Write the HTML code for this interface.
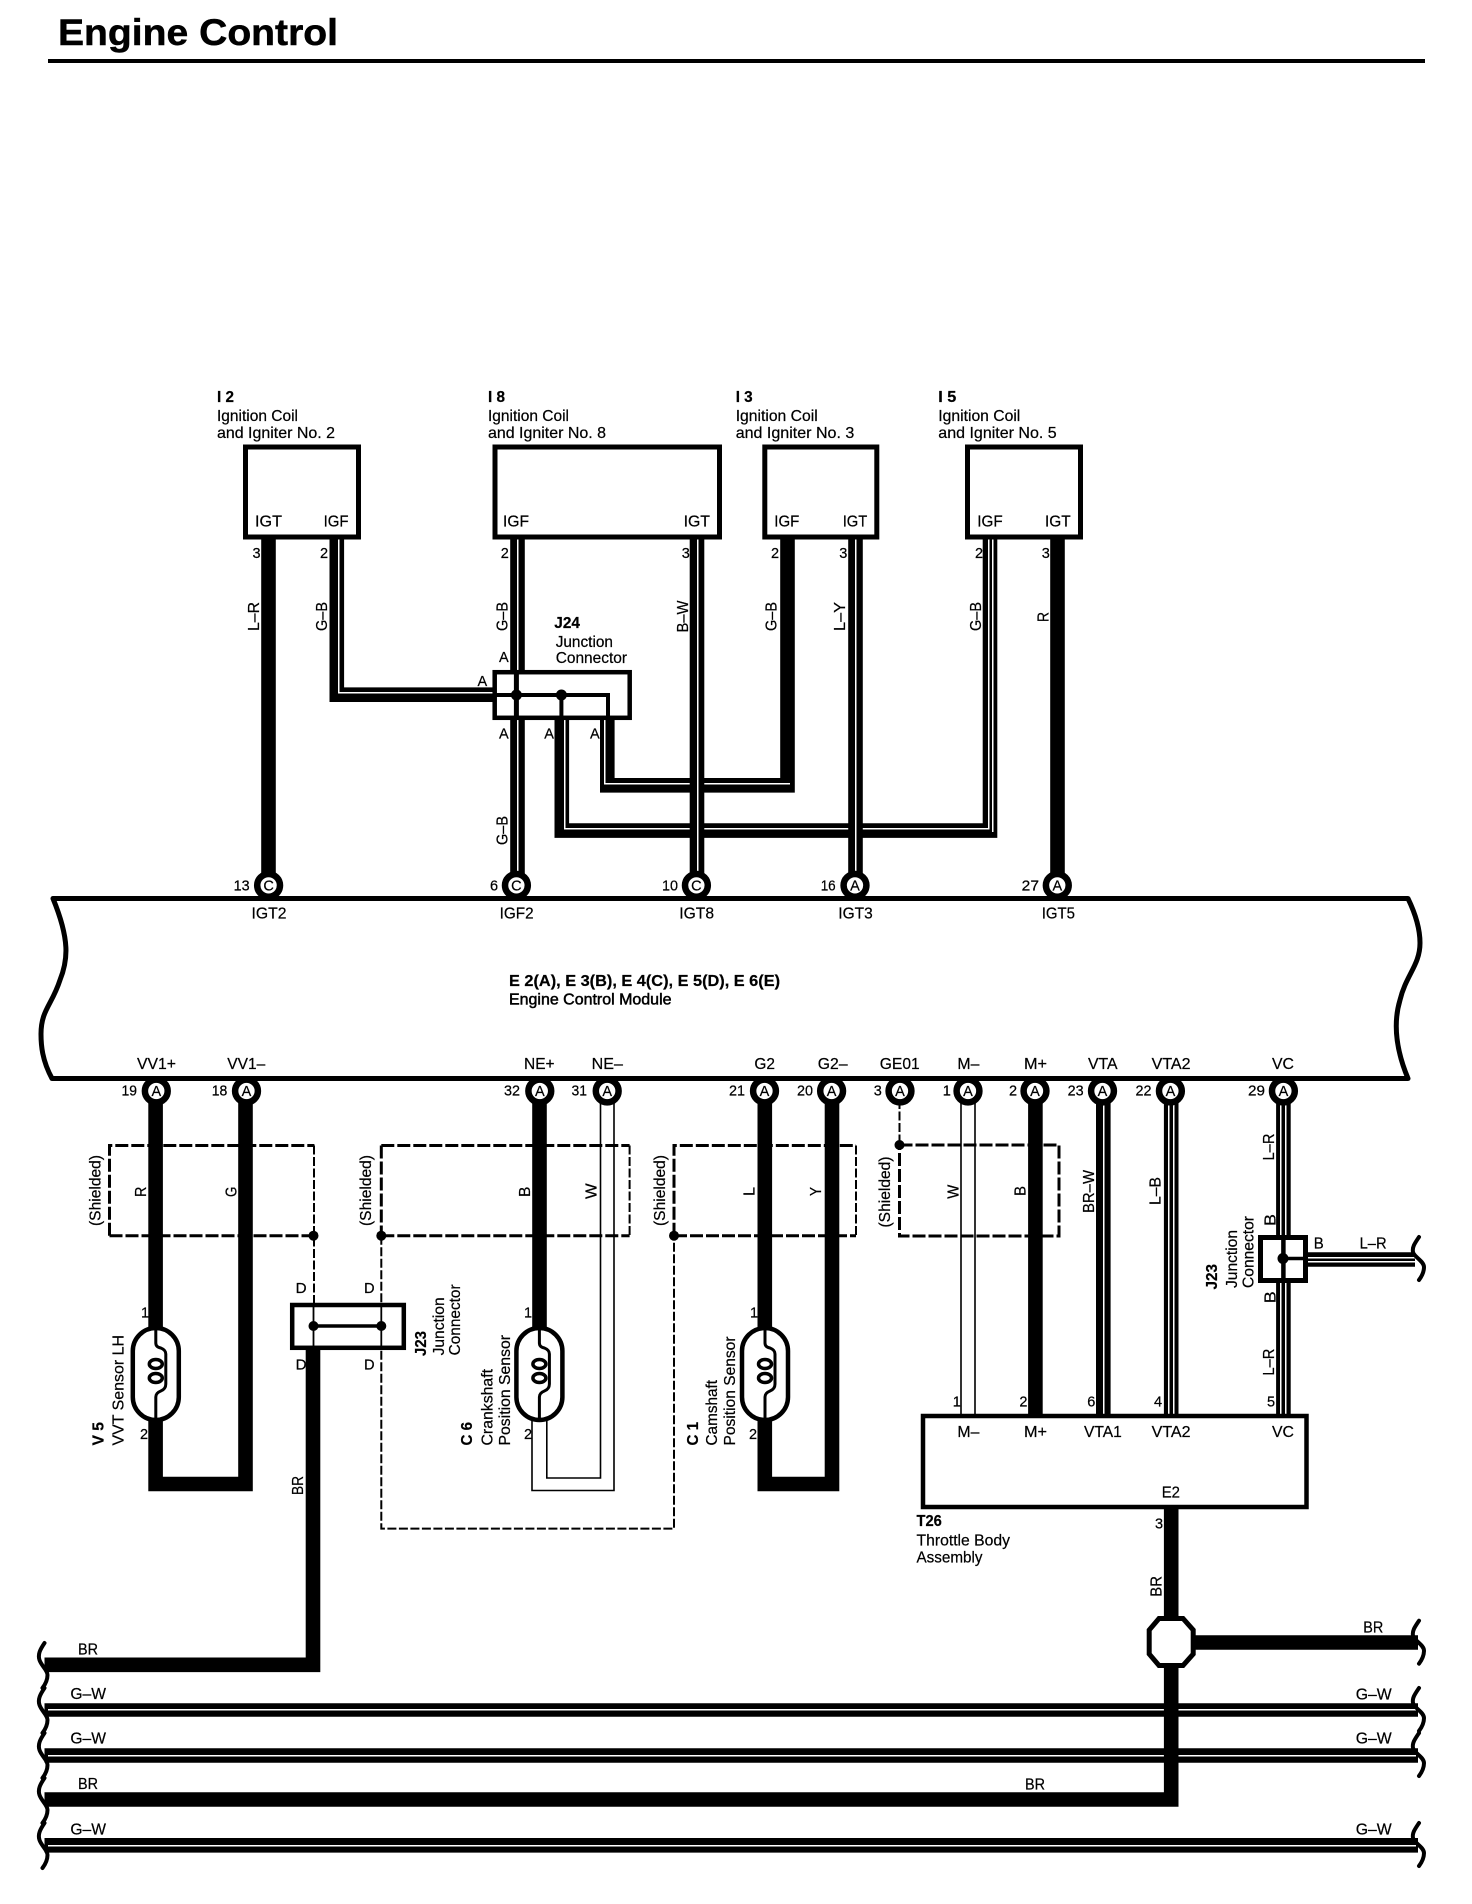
<!DOCTYPE html>
<html><head><meta charset="utf-8"><title>Engine Control</title>
<style>
html,body{margin:0;padding:0;background:#fff}
svg{display:block}
text{font-family:"Liberation Sans",sans-serif;font-size:16px;fill:#000;stroke:#000;stroke-width:.22}
.b{font-weight:bold}
.n{font-size:14.5px}
.c{font-size:14.5px;text-anchor:middle}
.w{fill:none;stroke:#000;stroke-width:14.6}
.s{fill:none;stroke:#fff;stroke-width:1.5;shape-rendering:crispEdges}
.l{fill:none;stroke:#000;stroke-width:1.6}
.d{fill:none;stroke:#000;stroke-width:3;stroke-dasharray:13 3}
.t{fill:none;stroke:#000;stroke-width:2;stroke-dasharray:9 2.5}
.q{fill:none;stroke:#000;stroke-width:4;stroke-linecap:round}
.r{fill:#fff;stroke:#000;stroke-width:5}
.p{fill:#fff;stroke:#000;stroke-width:6.5}
</style></head><body>
<svg xmlns="http://www.w3.org/2000/svg" width="1472" height="1904" viewBox="0 0 1472 1904">
<defs>
<g id="sen">
<rect x="-23" y="1328" width="46" height="92" rx="23" ry="23" fill="#fff" stroke="#000" stroke-width="4.5"/>
<path d="M0 1328V1343Q0 1347 5 1348Q10 1350 10 1354V1384Q10 1389 5 1391Q0 1393 0 1397V1420" fill="none" stroke="#000" stroke-width="3"/>
<ellipse cx="0" cy="1364" rx="6.5" ry="4.5" fill="none" stroke="#000" stroke-width="3.5"/>
<ellipse cx="0" cy="1378" rx="6.5" ry="4.5" fill="none" stroke="#000" stroke-width="3.5"/>
</g>
<path id="sq" class="q" d="M0 0c-4 6-7 11-5 17c2 6 8 10 8 15c0 5-2 9-5 13"/>
<path id="sr" class="q" d="M0 0c-4 6-7 10-6 15c1 5 11 9 11 15c0 5-2 9-5 13"/>
</defs>

<!-- Title -->
<text x="58" y="45" class="b" style="font-size:37.5px;stroke-width:.5" textLength="280" lengthAdjust="spacingAndGlyphs">Engine Control</text>
<rect x="48" y="59" width="1377" height="4"/>

<!-- upper horizontals -->
<path class="w" d="M336.8 539V694.7H494"/>
<path class="s" d="M338.5 539V692.5H494"/>
<path class="w" d="M607.3 720V785.3H787.5V539"/>
<path class="s" d="M604.5 720V783.5H790"/>
<path class="w" d="M561.8 720V830.6H990V539"/>
<path class="s" d="M564.5 720V828.5H988.5V539M992.5 539V832"/>

<!-- upper verticals -->
<path class="w" d="M268.5 539V885"/>
<path class="w" d="M517.5 539V885"/>
<path class="s" d="M517.5 539V672M517.5 720V885"/>
<path class="w" d="M697 539V885"/>
<path class="s" d="M697.5 539V885"/>
<path class="w" d="M855.5 539V885"/>
<path class="s" d="M855.5 539V885"/>
<path class="w" d="M1057.5 539V885"/>

<!-- boxes -->
<rect class="r" x="245.5" y="447" width="113" height="90"/>
<rect class="r" x="495" y="447" width="224.5" height="90"/>
<rect class="r" x="764.8" y="447" width="112" height="90"/>
<rect class="r" x="967.5" y="447" width="113" height="90"/>

<!-- J24 -->
<rect x="494.7" y="672.2" width="135" height="45.6" fill="#fff" stroke="#000" stroke-width="4.5"/>
<path d="M494 695H608V720M561.4 695V720" fill="none" stroke="#000" stroke-width="4"/>
<path d="M516.4 672V720" fill="none" stroke="#000" stroke-width="5"/>
<circle cx="516.4" cy="695" r="5.5"/><circle cx="561.4" cy="695" r="5.5"/>

<!-- ECM -->
<path d="M1408 898.5C1416 915 1420 930 1420 943C1420 965 1406 975 1400 1000C1394 1020 1394 1045 1408 1078.5H52C42 1060 41 1045 41 1034C41 1010 52 1005 60 980C68 960 70 940 53 898.5Z" fill="none" stroke="#000" stroke-width="5" stroke-linejoin="round"/>

<!-- lower wires -->
<path class="w" d="M155.6 1091V1484H245.5V1091"/>
<path class="w" d="M539.5 1091V1328"/>
<path class="l" d="M532 1415V1490.5H614V1100M546.8 1415V1478H600.5V1100"/>
<path class="w" d="M764.8 1091V1484H832V1091"/>
<path class="l" d="M961 1100V1415M975 1100V1415"/>
<path class="w" d="M1035.4 1091V1415"/>
<path class="w" d="M1103.3 1091V1415"/><path class="s" d="M1103.5 1100V1415"/>
<path class="w" d="M1171.2 1091V1415"/><path class="s" d="M1168.5 1100V1415M1173.5 1100V1415"/>
<path class="w" d="M1283.4 1091V1415"/><path class="s" d="M1280.5 1100V1415M1285.5 1100V1415"/>

<!-- shields -->
<path class="d" d="M109.5 1235.7V1145.5H314.4"/>
<path class="d" d="M109.5 1235.7H314.4"/>
<path class="t" d="M314 1145.5V1326"/>
<path class="d" d="M381.3 1145.5H629.6M381.3 1235.7H629.6"/>
<path class="t" d="M629.6 1145.5V1235.7"/>
<path class="d" d="M381.3 1145.5V1235.7"/>
<path class="t" d="M381.3 1235.7V1528.6H674V1235.7"/>
<path class="d" d="M674 1235.7V1145.5H856M674 1235.7H856"/>
<path class="t" d="M856 1145.5V1235.7"/>
<path class="t" d="M899.5 1100V1145"/>
<path class="d" d="M899.5 1145H1059V1236H899.5V1145"/>
<circle cx="313.5" cy="1235.7" r="5"/><circle cx="381.3" cy="1235.7" r="5"/><circle cx="674" cy="1235.7" r="5"/><circle cx="899.5" cy="1145" r="5"/>

<!-- sensors -->
<use href="#sen" x="155.8"/>
<use href="#sen" x="539.4"/>
<use href="#sen" x="765"/>

<!-- left J23 -->
<rect x="292.2" y="1305" width="111.6" height="42.8" fill="#fff" stroke="#000" stroke-width="4.5"/>
<path d="M313.5 1303V1350M381.3 1303V1350" stroke="#000" stroke-width="1.8" fill="none"/>
<path d="M313.5 1326H381.3" stroke="#000" stroke-width="3.5" fill="none"/>
<circle cx="313.5" cy="1326" r="5"/><circle cx="381.3" cy="1326" r="5"/>
<path class="w" d="M313 1350V1664.8H44.5"/>

<!-- right J23 -->
<path class="w" d="M1308 1259.5H1415"/><path class="s" d="M1308 1257.5H1415M1308 1261.5H1415"/>
<rect x="1260.5" y="1237.5" width="45" height="43" fill="#fff" stroke="#000" stroke-width="5"/>
<path d="M1283.4 1236V1282" stroke="#000" stroke-width="4.5" fill="none"/>
<path d="M1283 1258.5H1306" stroke="#000" stroke-width="3.5" fill="none"/>
<circle cx="1283" cy="1258.5" r="5.5"/>

<!-- T26 -->
<rect x="923" y="1416" width="383.5" height="91" fill="#fff" stroke="#000" stroke-width="4.5"/>

<!-- buses -->
<path class="w" d="M44.5 1710H1418" style="stroke-width:13.6"/><path class="s" d="M48 1709.5H1416"/>
<path class="w" d="M44.5 1755.5H1418"/><path class="s" d="M48 1755.5H1416"/>
<path class="w" d="M44.5 1845.3H1418"/><path class="s" d="M48 1845.5H1416"/>
<path class="w" d="M1171.2 1507V1616"/>
<path class="w" d="M1171.2 1664V1799.5H44.5"/>
<path class="w" d="M1193 1642.5H1418"/>
<polygon points="1159,1618.5 1183,1618.5 1193.2,1630 1193.2,1654 1183,1665.5 1159,1665.5 1149.2,1654 1149.2,1630" fill="#fff" stroke="#000" stroke-width="5"/>

<!-- squiggles -->
<use href="#sq" x="44.5" y="1643"/><use href="#sq" x="44.5" y="1688"/><use href="#sq" x="44.5" y="1733"/><use href="#sq" x="44.5" y="1778"/><use href="#sq" x="44.5" y="1823"/>
<use href="#sr" x="1419" y="1620.7"/><use href="#sr" x="1419" y="1688"/><use href="#sr" x="1419" y="1733"/><use href="#sr" x="1419" y="1823"/><use href="#sr" x="1419" y="1237"/>

<!-- connector circles top -->
<circle class="p" cx="268.6" cy="885.4" r="11.4"/><text class="c" x="268.6" y="890.6">C</text>
<circle class="p" cx="516.4" cy="885.4" r="11.4"/><text class="c" x="516.4" y="890.6">C</text>
<circle class="p" cx="696.4" cy="885.4" r="11.4"/><text class="c" x="696.4" y="890.6">C</text>
<circle class="p" cx="855" cy="885.4" r="11.4"/><text class="c" x="855" y="890.6">A</text>
<circle class="p" cx="1057.3" cy="885.4" r="11.4"/><text class="c" x="1057.3" y="890.6">A</text>
<!-- connector circles bottom -->
<circle class="p" cx="156.3" cy="1091" r="11.4"/><text class="c" x="156.3" y="1096.2">A</text>
<circle class="p" cx="246.5" cy="1091" r="11.4"/><text class="c" x="246.5" y="1096.2">A</text>
<circle class="p" cx="539.8" cy="1091" r="11.4"/><text class="c" x="539.8" y="1096.2">A</text>
<circle class="p" cx="607.2" cy="1091" r="11.4"/><text class="c" x="607.2" y="1096.2">A</text>
<circle class="p" cx="764.5" cy="1091" r="11.4"/><text class="c" x="764.5" y="1096.2">A</text>
<circle class="p" cx="831.6" cy="1091" r="11.4"/><text class="c" x="831.6" y="1096.2">A</text>
<circle class="p" cx="900" cy="1091" r="11.4"/><text class="c" x="900" y="1096.2">A</text>
<circle class="p" cx="968" cy="1091" r="11.4"/><text class="c" x="968" y="1096.2">A</text>
<circle class="p" cx="1035" cy="1091" r="11.4"/><text class="c" x="1035" y="1096.2">A</text>
<circle class="p" cx="1102.5" cy="1091" r="11.4"/><text class="c" x="1102.5" y="1096.2">A</text>
<circle class="p" cx="1170.4" cy="1091" r="11.4"/><text class="c" x="1170.4" y="1096.2">A</text>
<circle class="p" cx="1283.4" cy="1091" r="11.4"/><text class="c" x="1283.4" y="1096.2">A</text>

<!-- component headers -->
<text class="b" x="217" y="402" textLength="17" lengthAdjust="spacingAndGlyphs">I 2</text>
<text x="217" y="421" textLength="81" lengthAdjust="spacingAndGlyphs">Ignition Coil</text>
<text x="217" y="438" textLength="118" lengthAdjust="spacingAndGlyphs">and Igniter No. 2</text>
<text class="b" x="488" y="402" textLength="17" lengthAdjust="spacingAndGlyphs">I 8</text>
<text x="488" y="421" textLength="81" lengthAdjust="spacingAndGlyphs">Ignition Coil</text>
<text x="488" y="438" textLength="118" lengthAdjust="spacingAndGlyphs">and Igniter No. 8</text>
<text class="b" x="735.7" y="402" textLength="17" lengthAdjust="spacingAndGlyphs">I 3</text>
<text x="735.7" y="421" textLength="82" lengthAdjust="spacingAndGlyphs">Ignition Coil</text>
<text x="735.7" y="438" textLength="118.6" lengthAdjust="spacingAndGlyphs">and Igniter No. 3</text>
<text class="b" x="938.3" y="402" textLength="18" lengthAdjust="spacingAndGlyphs">I 5</text>
<text x="938.3" y="421" textLength="82" lengthAdjust="spacingAndGlyphs">Ignition Coil</text>
<text x="938.3" y="438" textLength="118.4" lengthAdjust="spacingAndGlyphs">and Igniter No. 5</text>

<!-- box pin names -->
<text x="255" y="526.5" textLength="27" lengthAdjust="spacingAndGlyphs">IGT</text>
<text x="323.6" y="526.5" textLength="25" lengthAdjust="spacingAndGlyphs">IGF</text>
<text x="503" y="526.5" textLength="26" lengthAdjust="spacingAndGlyphs">IGF</text>
<text x="683.6" y="526.5" textLength="26.4" lengthAdjust="spacingAndGlyphs">IGT</text>
<text x="774.3" y="526.5" textLength="25" lengthAdjust="spacingAndGlyphs">IGF</text>
<text x="842.7" y="526.5" textLength="24.6" lengthAdjust="spacingAndGlyphs">IGT</text>
<text x="977.3" y="526.5" textLength="25.4" lengthAdjust="spacingAndGlyphs">IGF</text>
<text x="1045" y="526.5" textLength="25.7" lengthAdjust="spacingAndGlyphs">IGT</text>

<!-- pin numbers upper -->
<text class="n" x="252.5" y="558">3</text><text class="n" x="320" y="558">2</text>
<text class="n" x="500.7" y="558">2</text><text class="n" x="681.8" y="558">3</text>
<text class="n" x="771" y="558">2</text><text class="n" x="839.3" y="558">3</text>
<text class="n" x="975" y="558">2</text><text class="n" x="1041.7" y="558">3</text>

<!-- upper wire labels -->
<text x="259" y="631" transform="rotate(-90 259 631)" textLength="29" lengthAdjust="spacingAndGlyphs">L–R</text>
<text x="327" y="631" transform="rotate(-90 327 631)" textLength="29" lengthAdjust="spacingAndGlyphs">G–B</text>
<text x="507.5" y="631" transform="rotate(-90 507.5 631)" textLength="29" lengthAdjust="spacingAndGlyphs">G–B</text>
<text x="688" y="632.5" transform="rotate(-90 688 632.5)" textLength="32" lengthAdjust="spacingAndGlyphs">B–W</text>
<text x="507.5" y="845" transform="rotate(-90 507.5 845)" textLength="29" lengthAdjust="spacingAndGlyphs">G–B</text>
<text x="776.7" y="631" transform="rotate(-90 776.7 631)" textLength="29" lengthAdjust="spacingAndGlyphs">G–B</text>
<text x="845" y="631" transform="rotate(-90 845 631)" textLength="29" lengthAdjust="spacingAndGlyphs">L–Y</text>
<text x="981" y="631" transform="rotate(-90 981 631)" textLength="29" lengthAdjust="spacingAndGlyphs">G–B</text>
<text x="1048.3" y="622" transform="rotate(-90 1048.3 622)" textLength="10" lengthAdjust="spacingAndGlyphs">R</text>

<!-- J24 labels -->
<text class="b" x="554.3" y="628" textLength="25.7" lengthAdjust="spacingAndGlyphs">J24</text>
<text x="555.7" y="647" textLength="57.3" lengthAdjust="spacingAndGlyphs">Junction</text>
<text x="555.7" y="663" textLength="71.3" lengthAdjust="spacingAndGlyphs">Connector</text>
<text class="n" x="499" y="662">A</text><text class="n" x="477.5" y="686">A</text>
<text class="n" x="499" y="738.6">A</text><text class="n" x="544.3" y="738.6">A</text><text class="n" x="590" y="738.6">A</text>

<!-- ECM top labels -->
<text class="n" x="233.6" y="890.7" textLength="16" lengthAdjust="spacingAndGlyphs">13</text>
<text class="n" x="490" y="890.7">6</text>
<text class="n" x="662" y="890.7" textLength="16" lengthAdjust="spacingAndGlyphs">10</text>
<text class="n" x="820.7" y="890.7" textLength="15" lengthAdjust="spacingAndGlyphs">16</text>
<text class="n" x="1021.7" y="890.7" textLength="17.3" lengthAdjust="spacingAndGlyphs">27</text>
<text x="251.5" y="918.5" textLength="35" lengthAdjust="spacingAndGlyphs">IGT2</text>
<text x="499.6" y="918.5" textLength="34" lengthAdjust="spacingAndGlyphs">IGF2</text>
<text x="679.3" y="918.5" textLength="34.7" lengthAdjust="spacingAndGlyphs">IGT8</text>
<text x="838.3" y="918.5" textLength="34.4" lengthAdjust="spacingAndGlyphs">IGT3</text>
<text x="1041.7" y="918.5" textLength="33.3" lengthAdjust="spacingAndGlyphs">IGT5</text>

<!-- ECM name -->
<text class="b" x="509" y="986" textLength="271" lengthAdjust="spacingAndGlyphs">E 2(A), E 3(B), E 4(C), E 5(D), E 6(E)</text>
<text x="509" y="1004.5" textLength="162.5" lengthAdjust="spacingAndGlyphs" style="stroke-width:.5">Engine Control Module</text>

<!-- ECM bottom labels -->
<text x="137" y="1068.8" textLength="39" lengthAdjust="spacingAndGlyphs">VV1+</text>
<text x="227.3" y="1068.8" textLength="38" lengthAdjust="spacingAndGlyphs">VV1–</text>
<text x="524" y="1068.8" textLength="30.6" lengthAdjust="spacingAndGlyphs">NE+</text>
<text x="591.6" y="1068.8" textLength="31.3" lengthAdjust="spacingAndGlyphs">NE–</text>
<text x="754.4" y="1068.8" textLength="20.6" lengthAdjust="spacingAndGlyphs">G2</text>
<text x="817.8" y="1068.8" textLength="29.8" lengthAdjust="spacingAndGlyphs">G2–</text>
<text x="879.8" y="1068.8" textLength="39.9" lengthAdjust="spacingAndGlyphs">GE01</text>
<text x="957.4" y="1068.8" textLength="22" lengthAdjust="spacingAndGlyphs">M–</text>
<text x="1024" y="1068.8" textLength="23" lengthAdjust="spacingAndGlyphs">M+</text>
<text x="1088" y="1068.8" textLength="29.6" lengthAdjust="spacingAndGlyphs">VTA</text>
<text x="1151.6" y="1068.8" textLength="39" lengthAdjust="spacingAndGlyphs">VTA2</text>
<text x="1272" y="1068.8" textLength="22" lengthAdjust="spacingAndGlyphs">VC</text>

<text class="n" x="121.5" y="1095.5" textLength="15.5" lengthAdjust="spacingAndGlyphs">19</text>
<text class="n" x="211.7" y="1095.5" textLength="15.6" lengthAdjust="spacingAndGlyphs">18</text>
<text class="n" x="504" y="1095.5" textLength="16" lengthAdjust="spacingAndGlyphs">32</text>
<text class="n" x="571.5" y="1095.5" textLength="15.5" lengthAdjust="spacingAndGlyphs">31</text>
<text class="n" x="729" y="1095.5" textLength="16" lengthAdjust="spacingAndGlyphs">21</text>
<text class="n" x="797" y="1095.5" textLength="16" lengthAdjust="spacingAndGlyphs">20</text>
<text class="n" x="873.8" y="1095.5">3</text>
<text class="n" x="942.7" y="1095.5">1</text>
<text class="n" x="1009" y="1095.5">2</text>
<text class="n" x="1067.6" y="1095.5" textLength="16" lengthAdjust="spacingAndGlyphs">23</text>
<text class="n" x="1135.5" y="1095.5" textLength="16" lengthAdjust="spacingAndGlyphs">22</text>
<text class="n" x="1248" y="1095.5" textLength="17" lengthAdjust="spacingAndGlyphs">29</text>

<!-- shielded labels -->
<text x="100.5" y="1226" transform="rotate(-90 100.5 1226)" textLength="71" lengthAdjust="spacingAndGlyphs">(Shielded)</text>
<text x="371" y="1226" transform="rotate(-90 371 1226)" textLength="71" lengthAdjust="spacingAndGlyphs">(Shielded)</text>
<text x="665" y="1226" transform="rotate(-90 665 1226)" textLength="71" lengthAdjust="spacingAndGlyphs">(Shielded)</text>
<text x="890" y="1227.5" transform="rotate(-90 890 1227.5)" textLength="71" lengthAdjust="spacingAndGlyphs">(Shielded)</text>

<!-- colour labels -->
<text x="146" y="1197" transform="rotate(-90 146 1197)" textLength="10.4" lengthAdjust="spacingAndGlyphs">R</text>
<text x="236.7" y="1197" transform="rotate(-90 236.7 1197)" textLength="10.4" lengthAdjust="spacingAndGlyphs">G</text>
<text x="530" y="1197" transform="rotate(-90 530 1197)" textLength="10.4" lengthAdjust="spacingAndGlyphs">B</text>
<text x="596.7" y="1199" transform="rotate(-90 596.7 1199)" textLength="15.6" lengthAdjust="spacingAndGlyphs">W</text>
<text x="754.4" y="1196" transform="rotate(-90 754.4 1196)" textLength="9" lengthAdjust="spacingAndGlyphs">L</text>
<text x="821" y="1196" transform="rotate(-90 821 1196)" textLength="9" lengthAdjust="spacingAndGlyphs">Y</text>
<text x="958.7" y="1198.8" transform="rotate(-90 958.7 1198.8)" textLength="14" lengthAdjust="spacingAndGlyphs">W</text>
<text x="1025.3" y="1196" transform="rotate(-90 1025.3 1196)" textLength="10" lengthAdjust="spacingAndGlyphs">B</text>
<text x="1094" y="1213" transform="rotate(-90 1094 1213)" textLength="43" lengthAdjust="spacingAndGlyphs">BR–W</text>
<text x="1160.7" y="1205" transform="rotate(-90 1160.7 1205)" textLength="28" lengthAdjust="spacingAndGlyphs">L–B</text>
<text x="303" y="1495" transform="rotate(-90 303 1495)" textLength="19" lengthAdjust="spacingAndGlyphs">BR</text>

<!-- left J23 labels -->
<text class="n" x="295.6" y="1293" textLength="11" lengthAdjust="spacingAndGlyphs">D</text>
<text class="n" x="364" y="1293" textLength="10.6" lengthAdjust="spacingAndGlyphs">D</text>
<text class="n" x="295.6" y="1369.6" textLength="11" lengthAdjust="spacingAndGlyphs">D</text>
<text class="n" x="364" y="1369.6" textLength="10.6" lengthAdjust="spacingAndGlyphs">D</text>
<text class="b" x="426" y="1356" transform="rotate(-90 426 1356)" textLength="25" lengthAdjust="spacingAndGlyphs">J23</text>
<text x="444" y="1355.4" transform="rotate(-90 444 1355.4)" textLength="58" lengthAdjust="spacingAndGlyphs">Junction</text>
<text x="460" y="1355.4" transform="rotate(-90 460 1355.4)" textLength="71" lengthAdjust="spacingAndGlyphs">Connector</text>

<!-- sensor pins -->
<text class="n" x="141" y="1317.4">1</text><text class="n" x="140" y="1439">2</text>
<text class="n" x="524" y="1317.4">1</text><text class="n" x="524" y="1439">2</text>
<text class="n" x="750" y="1317.4">1</text><text class="n" x="749" y="1439">2</text>

<!-- sensor names -->
<text class="b" x="103.6" y="1445.5" transform="rotate(-90 103.6 1445.5)" textLength="23.5" lengthAdjust="spacingAndGlyphs">V 5</text>
<text x="123.7" y="1445.5" transform="rotate(-90 123.7 1445.5)" textLength="110.5" lengthAdjust="spacingAndGlyphs">VVT Sensor LH</text>
<text class="b" x="472" y="1445.5" transform="rotate(-90 472 1445.5)" textLength="23.5" lengthAdjust="spacingAndGlyphs">C 6</text>
<text x="492.5" y="1445.5" transform="rotate(-90 492.5 1445.5)" textLength="76.5" lengthAdjust="spacingAndGlyphs">Crankshaft</text>
<text x="510" y="1445.5" transform="rotate(-90 510 1445.5)" textLength="110.5" lengthAdjust="spacingAndGlyphs">Position Sensor</text>
<text class="b" x="698" y="1445.5" transform="rotate(-90 698 1445.5)" textLength="23.5" lengthAdjust="spacingAndGlyphs">C 1</text>
<text x="717" y="1445.5" transform="rotate(-90 717 1445.5)" textLength="65.5" lengthAdjust="spacingAndGlyphs">Camshaft</text>
<text x="735" y="1445.5" transform="rotate(-90 735 1445.5)" textLength="109" lengthAdjust="spacingAndGlyphs">Position Sensor</text>

<!-- right J23 labels -->
<text x="1274" y="1160.5" transform="rotate(-90 1274 1160.5)" textLength="27" lengthAdjust="spacingAndGlyphs">L–R</text>
<text x="1275.6" y="1226" transform="rotate(-90 1275.6 1226)" textLength="12" lengthAdjust="spacingAndGlyphs">B</text>
<text x="1275.6" y="1303.3" transform="rotate(-90 1275.6 1303.3)" textLength="12" lengthAdjust="spacingAndGlyphs">B</text>
<text x="1274" y="1375.6" transform="rotate(-90 1274 1375.6)" textLength="27" lengthAdjust="spacingAndGlyphs">L–R</text>
<text x="1313.7" y="1248.6" textLength="10" lengthAdjust="spacingAndGlyphs">B</text>
<text x="1359.6" y="1248.6" textLength="27" lengthAdjust="spacingAndGlyphs">L–R</text>
<text class="b" x="1217" y="1289.5" transform="rotate(-90 1217 1289.5)" textLength="25.5" lengthAdjust="spacingAndGlyphs">J23</text>
<text x="1237" y="1288" transform="rotate(-90 1237 1288)" textLength="58" lengthAdjust="spacingAndGlyphs">Junction</text>
<text x="1253.5" y="1288" transform="rotate(-90 1253.5 1288)" textLength="72" lengthAdjust="spacingAndGlyphs">Connector</text>

<!-- T26 labels -->
<text class="n" x="952.8" y="1406.6">1</text>
<text class="n" x="1019.4" y="1406.6">2</text>
<text class="n" x="1087.3" y="1406.6">6</text>
<text class="n" x="1154" y="1406.6">4</text>
<text class="n" x="1267" y="1406.6">5</text>
<text x="957.4" y="1437" textLength="22" lengthAdjust="spacingAndGlyphs">M–</text>
<text x="1024" y="1437" textLength="23" lengthAdjust="spacingAndGlyphs">M+</text>
<text x="1084" y="1437" textLength="37.8" lengthAdjust="spacingAndGlyphs">VTA1</text>
<text x="1151.6" y="1437" textLength="39" lengthAdjust="spacingAndGlyphs">VTA2</text>
<text x="1272" y="1437" textLength="22" lengthAdjust="spacingAndGlyphs">VC</text>
<text x="1161.7" y="1497.3" textLength="18.3" lengthAdjust="spacingAndGlyphs">E2</text>
<text class="b" x="916.5" y="1526" textLength="25.3" lengthAdjust="spacingAndGlyphs">T26</text>
<text x="916.5" y="1545.5" textLength="93.5" lengthAdjust="spacingAndGlyphs">Throttle Body</text>
<text x="916.5" y="1562.5" textLength="66" lengthAdjust="spacingAndGlyphs">Assembly</text>
<text class="n" x="1155" y="1528.7">3</text>
<text x="1161.7" y="1596.7" transform="rotate(-90 1161.7 1596.7)" textLength="20.7" lengthAdjust="spacingAndGlyphs">BR</text>

<!-- bus labels -->
<text x="1363.3" y="1632.3" textLength="20" lengthAdjust="spacingAndGlyphs">BR</text>
<text x="1355.7" y="1699.5" textLength="36" lengthAdjust="spacingAndGlyphs">G–W</text>
<text x="1355.7" y="1743.5" textLength="36" lengthAdjust="spacingAndGlyphs">G–W</text>
<text x="1355.7" y="1834.5" textLength="36" lengthAdjust="spacingAndGlyphs">G–W</text>
<text x="1025" y="1789.5" textLength="20" lengthAdjust="spacingAndGlyphs">BR</text>
<text x="78" y="1654.5" textLength="20" lengthAdjust="spacingAndGlyphs">BR</text>
<text x="70.4" y="1699" textLength="35.6" lengthAdjust="spacingAndGlyphs">G–W</text>
<text x="70.4" y="1743.5" textLength="35.6" lengthAdjust="spacingAndGlyphs">G–W</text>
<text x="78" y="1789" textLength="20" lengthAdjust="spacingAndGlyphs">BR</text>
<text x="70.4" y="1834.5" textLength="35.6" lengthAdjust="spacingAndGlyphs">G–W</text>
</svg>
</body></html>
